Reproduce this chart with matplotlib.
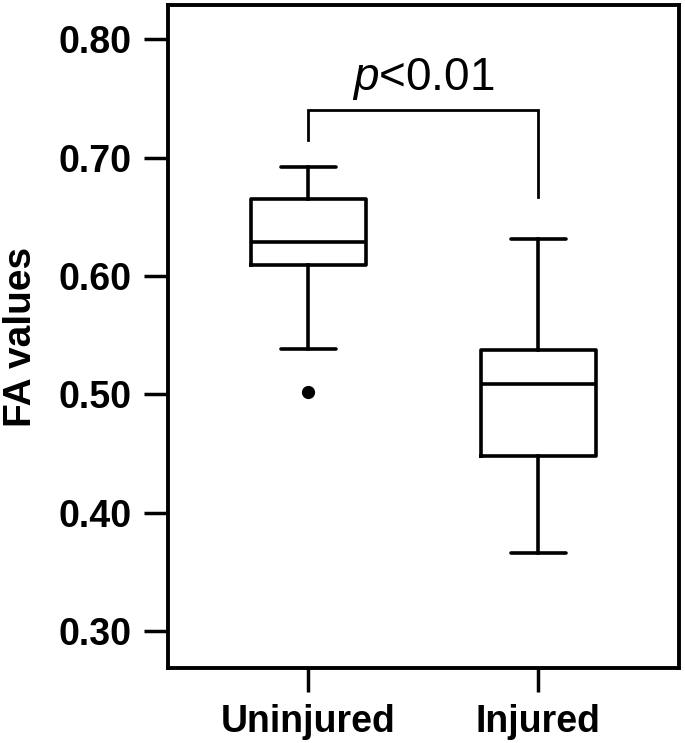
import matplotlib
matplotlib.use("Agg")
import matplotlib.pyplot as plt

plt.rcParams['font.family'] = ['Liberation Sans', 'DejaVu Sans']
plt.rcParams['mathtext.fontset'] = 'custom'
plt.rcParams['mathtext.rm'] = 'Liberation Sans'
plt.rcParams['mathtext.it'] = 'Liberation Sans:italic'

# Data
groups = ["Uninjured", "Injured"]
whislo = [0.538, 0.366]
q1 = [0.609, 0.448]
med = [0.629, 0.509]
q3 = [0.665, 0.537]
whishi = [0.692, 0.631]
fliers = [[0.502], []]
yticks = [0.30, 0.40, 0.50, 0.60, 0.70, 0.80]
ytick_labels = ["0.30", "0.40", "0.50", "0.60", "0.70", "0.80"]

# Significance annotation
sig_text = "$p$<0.01"
bracket_top = 0.740
bracket_left_end = 0.7147
bracket_right_end = 0.6666
sig_text_y = 0.757

fig = plt.figure(figsize=(6.85, 7.43), dpi=100)
ax = fig.add_axes([0.245, 0.101, 0.746, 0.892])

stats = []
for i, g in enumerate(groups):
    stats.append(dict(label=g, whislo=whislo[i], q1=q1[i], med=med[i],
                      q3=q3[i], whishi=whishi[i], fliers=fliers[i]))

lw = 2.6
ax.bxp(stats, positions=[1, 2], widths=0.5, capwidths=0.24, showfliers=True,
       boxprops=dict(color='black', linewidth=lw),
       medianprops=dict(color='black', linewidth=lw),
       whiskerprops=dict(color='black', linewidth=lw),
       capprops=dict(color='black', linewidth=lw, solid_capstyle='round'),
       flierprops=dict(marker='o', markerfacecolor='black', markeredgecolor='black',
                       markersize=8.5))

# bracket
ax.plot([1, 1, 2, 2], [bracket_left_end, bracket_top, bracket_top, bracket_right_end],
        color='black', linewidth=2.0, solid_joinstyle='miter')
ax.text(1.5, sig_text_y, sig_text, ha='center', va='baseline', fontsize=33)

ax.set_xlim(0.39, 2.61)
ax.set_ylim(0.2688, 0.8287)
ax.set_yticks(yticks)
ax.set_yticklabels(ytick_labels, fontsize=27, fontweight='bold')
ax.set_xticks([1, 2])
ax.set_xticklabels(groups, fontsize=27, fontweight='bold')
ax.set_ylabel("FA values", fontsize=28, fontweight='bold', labelpad=14)

for s in ax.spines.values():
    s.set_linewidth(2.8)
ax.tick_params(axis='both', direction='out', length=17, width=2.5, pad=9)

fig.savefig("out.png", dpi=100)
